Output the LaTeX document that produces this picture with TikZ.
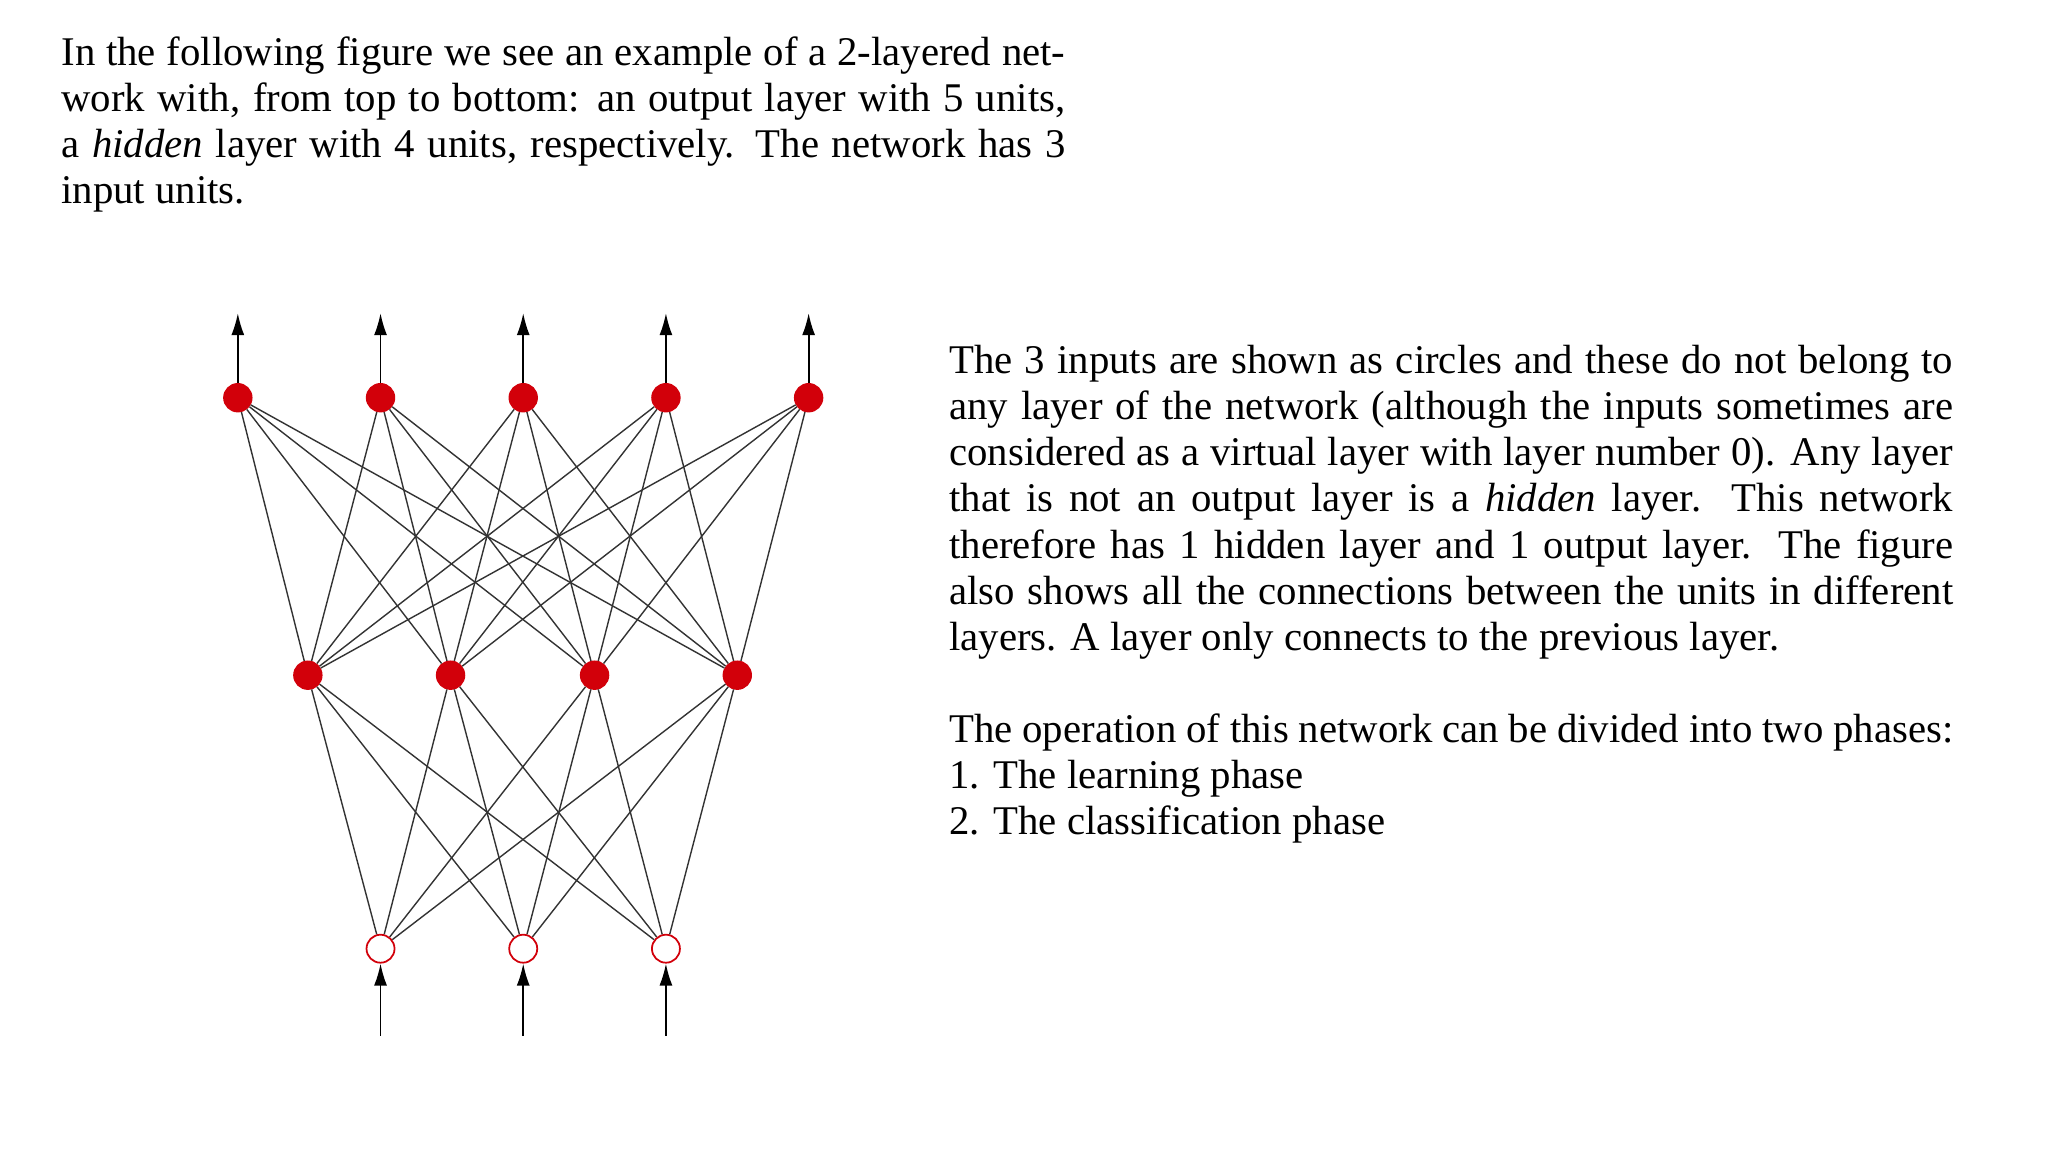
\documentclass[tikz,border=0pt]{standalone}
\usepackage{fontspec}
\setmainfont{Liberation Serif}
\usetikzlibrary{arrows.meta}
\definecolor{nred}{RGB}{210,0,10}
\tikzset{
 unit/.style={circle,fill=nred,draw=nred,minimum size=0.28cm,inner sep=0},
 inunit/.style={circle,fill=white,draw=nred,minimum size=0.28cm,inner sep=0,line width=0.5pt},
 link/.style={line width=0.4pt,draw=black!80},
 io/.style={line width=0.5pt,-{Latex[length=2.2mm,width=1.3mm]}},
 para/.style={anchor=north west,inner sep=0,text width=10.04cm,align=justify,font=\fontsize{11.6}{13.1}\selectfont}
}
\begin{document}
\begin{tikzpicture}[x=0.013213cm,y=-0.013213cm]
\useasboundingbox (0,0) rectangle (1550,872);
\node[para] (t1) at (46,27) {In the following figure we see an example of a 2-layered network with, from top to bottom: an output layer with 5 units, a \textit{hidden} layer with 4 units, respectively. The network has 3 input units.};
\node[para] (t2) at (718,261) {The 3 inputs are shown as circles and these do not belong to any layer of the network (although the inputs sometimes are considered as a virtual layer with layer number 0). Any layer that is not an output layer is a \textit{hidden} layer. This network therefore has 1 hidden layer and 1 output layer. The figure also shows all the connections between the units in different layers. A layer only connects to the previous layer.\par\vspace{13.1pt}
{\raggedright The operation of this network can be divided into two phases:\\
1. The learning phase\\
2. The classification phase\par}};
\foreach \x [count=\i] in {180,288,396,504,612} {
  \node[unit] (o\i) at (\x,301) {};
  \coordinate (oa\i) at (\x,237);
  \draw[io] (o\i) -- (oa\i);
}
\foreach \x [count=\i] in {233,341,450,558} \node[unit] (h\i) at (\x,511) {};
\foreach \x [count=\i] in {288,396,504} {
  \node[inunit] (i\i) at (\x,718) {};
  \coordinate (ia\i) at (\x,784);
  \draw[io] (ia\i) -- (i\i);
}
\foreach \a in {1,...,5} \foreach \b in {1,...,4} \draw[link] (o\a) -- (h\b);
\foreach \a in {1,...,4} \foreach \b in {1,...,3} \draw[link] (h\a) -- (i\b);
\end{tikzpicture}
\end{document}
